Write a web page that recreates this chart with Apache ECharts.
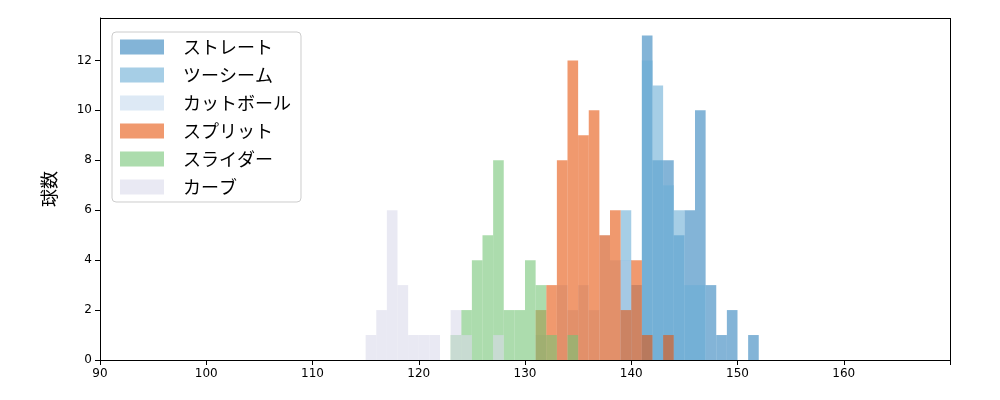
<!DOCTYPE html>
<html><head><meta charset="utf-8">
<script src="https://cdn.jsdelivr.net/npm/echarts@6/dist/echarts.min.js"></script>
<style>html,body{margin:0;padding:0;background:#fff}#c{width:1000px;height:400px}</style>
</head><body><div id="c"></div>
<script>
// bin starts (1 km/h wide bins) and counts
const names = ['ストレート','ツーシーム','カットボール','スプリット','スライダー','カーブ'];
const straightBins = [139,140,141,142,143,144,145,146,147,148,149,151];
const straightVals = [4,3,13,8,8,5,6,10,3,1,2,1];
const twoseamBins = [139,141,142,143,144,145,146];
const twoseamVals = [6,12,11,7,6,3,3];
const cutterBins = [131,133,134,135,136,137,138,139,140];
const cutterVals = [1,3,2,3,2,5,4,4,3];
const splitBins = [131,132,133,134,135,136,137,138,139,140,141,143];
const splitVals = [2,3,8,12,9,10,5,6,2,4,1,1];
const sliderBins = [123,124,125,126,127,128,129,130,131,132,134];
const sliderVals = [1,2,4,5,8,2,2,4,3,1,1];
const curveBins = [115,116,117,118,119,120,121,123,124,127];
const curveVals = [1,2,6,3,1,1,1,2,1,1];
const colors = ['#3182bd','#6baed6','#c6dbef','#e6550d','#74c476','#dadaeb'];
const allBins = [straightBins,twoseamBins,cutterBins,splitBins,sliderBins,curveBins];
const allVals = [straightVals,twoseamVals,cutterVals,splitVals,sliderVals,curveVals];

const chart = echarts.init(document.getElementById('c'));
const series = names.map((n,i)=>({
  name:n, type:'custom',
  itemStyle:{color:colors[i],opacity:0.6},
  data: allBins[i].map((b,j)=>[b, allVals[i][j]]),
  encode:{x:0,y:1},
  renderItem:(params,api)=>{
    const p0 = api.coord([api.value(0),0]);
    const p1 = api.coord([api.value(0)+1, api.value(1)]);
    return {type:'rect', shape:{x:p0[0],y:p1[1],width:p1[0]-p0[0],height:p0[1]-p1[1]},
      style:{fill:colors[i],opacity:0.6}};
  }
}));
chart.setOption({
  animation:false,
  grid:{left:100,right:50,top:18,bottom:40},
  legend:{left:112,top:32,orient:'vertical',itemWidth:44,itemHeight:15,itemGap:10,
    padding:[6,10,6,8],
    borderColor:'#ccc',borderWidth:1,borderRadius:4,backgroundColor:'rgba(255,255,255,0.8)',
    textStyle:{fontSize:18,fontFamily:'Noto Sans CJK JP',color:'#000',padding:[0,0,0,14]},
    data:names.map((n,i)=>({name:n,icon:'rect',itemStyle:{color:colors[i],opacity:0.6}}))},
  xAxis:{type:'value',min:90,max:170,interval:10,
    axisLine:{lineStyle:{color:'#000'}},axisTick:{show:true,length:5,lineStyle:{color:'#000'}},
    axisLabel:{color:'#000',fontSize:12,fontFamily:'DejaVu Sans',formatter:v=>v>=170?'':v},splitLine:{show:false}},
  yAxis:{type:'value',min:0,max:13.7,interval:2,name:'球数',nameLocation:'middle',nameGap:42,
    nameTextStyle:{fontSize:18,fontFamily:'Noto Sans CJK JP',color:'#000'},
    axisLine:{show:true,lineStyle:{color:'#000'}},axisTick:{show:true,length:5,lineStyle:{color:'#000'}},
    axisLabel:{color:'#000',fontSize:12,fontFamily:'DejaVu Sans',showMaxLabel:false},splitLine:{show:false}},
  series:series.concat([{type:'line',data:[],markLine:{silent:true,symbol:'none',label:{show:false},
    lineStyle:{color:'#000',type:'solid',width:1},data:[{xAxis:170},{yAxis:13.7}]}}])
});
</script></body></html>
